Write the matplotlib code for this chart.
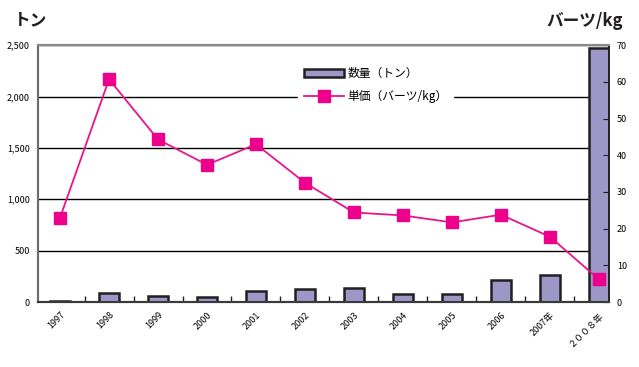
import matplotlib
matplotlib.use("Agg")
import matplotlib.pyplot as plt
from matplotlib.ticker import FuncFormatter, FixedLocator

plt.rcParams['font.family'] = ['Noto Sans CJK JP', 'DejaVu Sans']

years = ["1997", "1998", "1999", "2000", "2001", "2002", "2003", "2004",
         "2005", "2006", "2007年", "２００８年"]
quantity = [10, 85, 62, 52, 104, 124, 133, 75, 75, 211, 266, 2470]
price = [23.0, 60.7, 44.3, 37.4, 43.0, 32.5, 24.4, 23.6, 21.7, 23.8, 17.8, 6.2]

x = list(range(len(years)))

fig = plt.figure(figsize=(6.39, 3.67), dpi=100)
ax = fig.add_axes([0.0595, 0.177, 0.893, 0.700])
ax2 = ax.twinx()

bars = ax.bar(x, quantity, width=0.41, color="#9d97c8", edgecolor="#231f20",
              linewidth=1.8, zorder=3, label="数量（トン）")
ax.set_ylim(0, 2500)
ax.set_yticks([0, 500, 1000, 1500, 2000, 2500])
ax.yaxis.set_major_formatter(FuncFormatter(lambda v, p: f"{int(v):,}"))
ax.grid(axis="y", color="black", linewidth=1.0, zorder=0)
ax.set_axisbelow(True)
ax.tick_params(axis="y", length=0, labelsize=6.5, pad=6)

ax.set_xlim(-0.45, 11.2)
ax.set_xticks(x)
ax.set_xticklabels(years, rotation=45, ha="right", rotation_mode="anchor", fontsize=6.5)
ax.tick_params(axis="x", length=0, pad=6)
ax.xaxis.set_minor_locator(FixedLocator([i + 0.5 for i in x[:-1]]))
ax.tick_params(axis="x", which="minor", direction="in", length=4, width=1, color="#231f20")

line, = ax2.plot(x, price, color="#e8158c", linewidth=1.3, marker="s",
                 markersize=9, markerfacecolor="#ec008c", markeredgecolor="#ec008c",
                 label="単価（バーツ/kg）", zorder=4)
ax2.set_ylim(0, 70)
ax2.set_yticks(range(0, 71, 10))
ax2.tick_params(axis="y", direction="in", length=4, labelsize=6.5, pad=6, color="#231f20")

for a in (ax, ax2):
    a.spines["top"].set_color("#8a8a8a")
    a.spines["top"].set_linewidth(1.5)
    a.spines["left"].set_color("#6d6d6d")
    a.spines["left"].set_linewidth(1.5)
    a.spines["bottom"].set_color("#3a3a3a")
    a.spines["bottom"].set_linewidth(1.5)
    a.spines["right"].set_color("#231f20")
    a.spines["right"].set_linewidth(1.2)

leg = ax2.legend([bars, line], ["数量（トン）", "単価（バーツ/kg）"],
                 loc="upper left", bbox_to_anchor=(0.445, 0.96), frameon=True,
                 fontsize=8.5, handlelength=3.4, borderpad=0.5, labelspacing=0.85,
                 handletextpad=0.3)
leg.get_frame().set_facecolor("white")
leg.get_frame().set_edgecolor("white")
leg.get_frame().set_alpha(1)
leg.get_frame().set_boxstyle("square", pad=0)

fig.text(0.022, 0.93, "トン", fontsize=12, fontweight="bold", color="#231f20")
fig.text(0.975, 0.93, "バーツ/kg", fontsize=12, fontweight="bold", color="#231f20", ha="right")

fig.savefig("out.png", dpi=100, facecolor="white")
